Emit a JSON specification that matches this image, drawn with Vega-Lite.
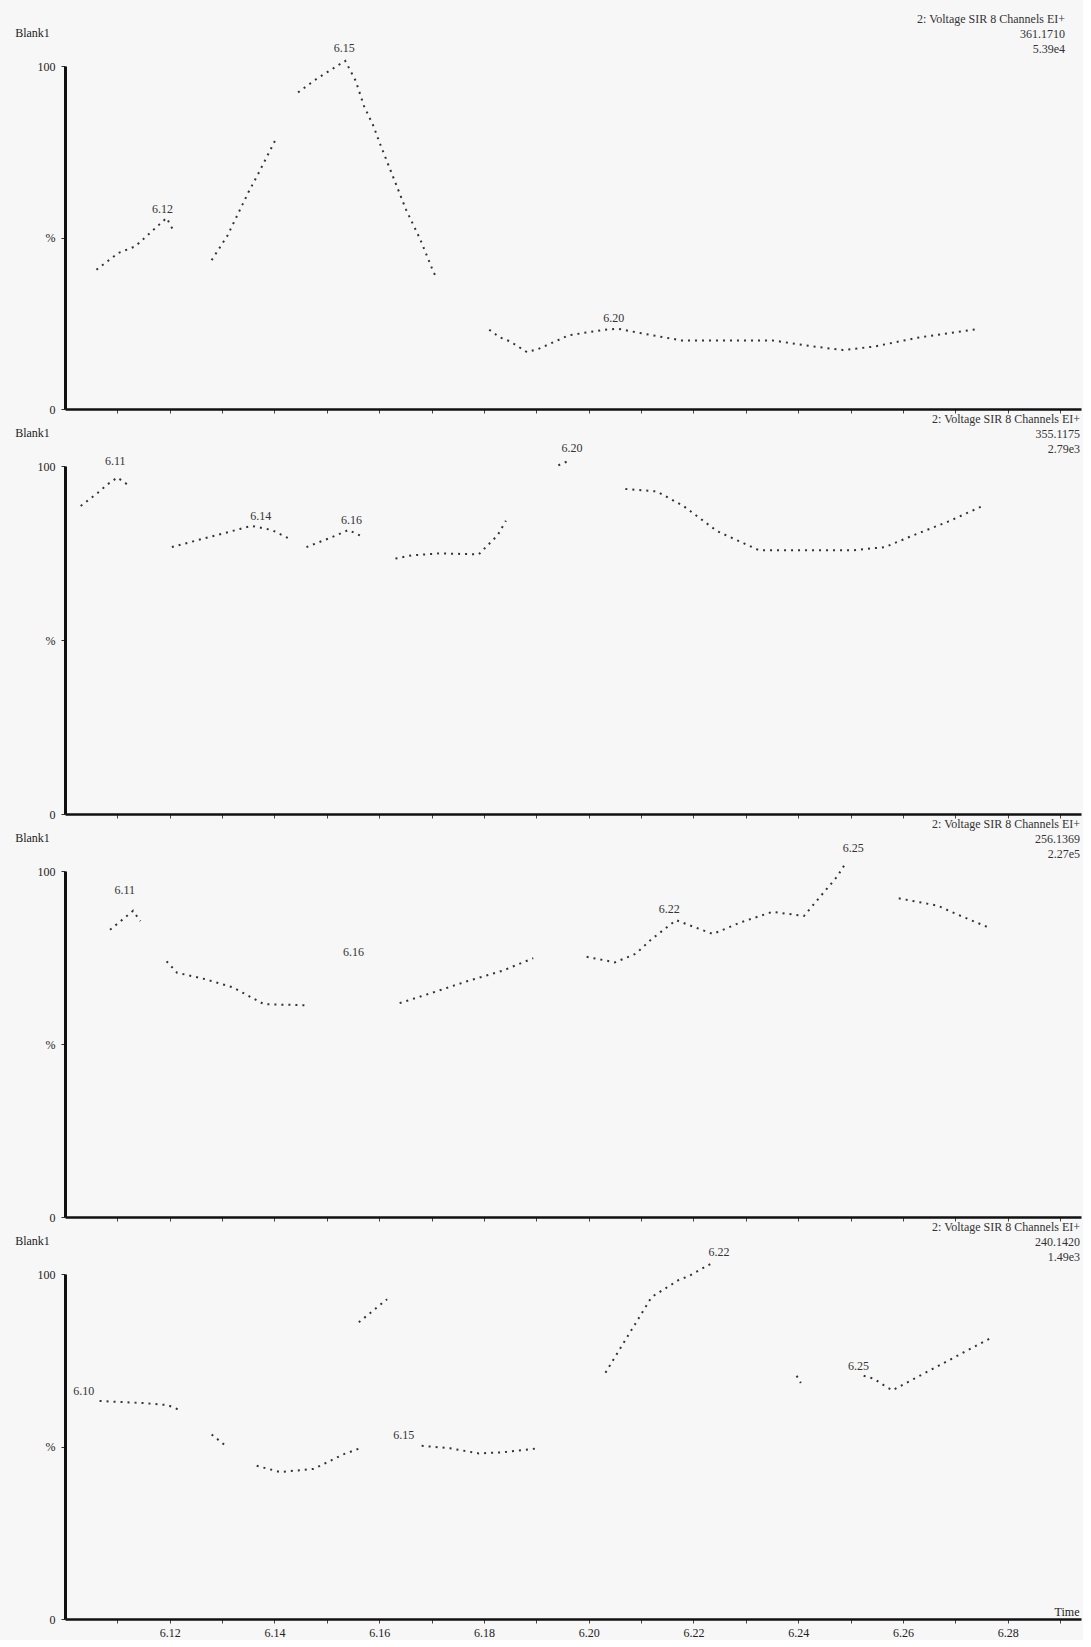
{
  "$schema": "https://vega.github.io/schema/vega-lite/v6.json",
  "background": "#f7f7f7",
  "padding": {"left": 14, "top": 13, "right": 2, "bottom": 2},
  "bounds": "flush",
  "spacing": 57,
  "config": {
    "view": {"stroke": null},
    "font": "Liberation Serif",
    "title": {"font": "Liberation Serif", "fontSize": 12, "fontWeight": "normal", "color": "#333", "anchor": "end", "align": "right", "frame": "group", "lineHeight": 15, "offset": -30},
    "axisY": {"labelExpr": "datum.value == 50 ? '%' : datum.label", "titleAngle": 0, "titleX": -33, "titleY": -34, "titleAlign": "center", "titleBaseline": "middle", "titleFont": "Liberation Serif", "titleFontSize": 12, "titleFontWeight": "normal", "titleColor": "#222", "labelFont": "Liberation Serif", "labelFontSize": 12, "labelColor": "#222", "domainWidth": 3, "domainColor": "#111", "tickSize": 4, "tickColor": "#333", "grid": false, "labelPadding": 6},
    "axisX": {"domainWidth": 2.5, "domainColor": "#111", "tickSize": 4, "tickColor": "#444", "grid": false, "labelFont": "Liberation Serif", "labelFontSize": 12, "labelColor": "#222"}
  },
  "datasets": {
    "trace": [
      {"panel": 1, "seg": 1, "t": 6.1060, "v": 40.6}, {"panel": 1, "seg": 1, "t": 6.1102, "v": 45.5}, {"panel": 1, "seg": 1, "t": 6.1134, "v": 47.4}, {"panel": 1, "seg": 1, "t": 6.1194, "v": 55.7}, {"panel": 1, "seg": 1, "t": 6.1206, "v": 52.3},
      {"panel": 1, "seg": 2, "t": 6.1280, "v": 43.4}, {"panel": 1, "seg": 2, "t": 6.1310, "v": 50.5}, {"panel": 1, "seg": 2, "t": 6.1350, "v": 63.1}, {"panel": 1, "seg": 2, "t": 6.1370, "v": 68.9}, {"panel": 1, "seg": 2, "t": 6.1401, "v": 78.2},
      {"panel": 1, "seg": 3, "t": 6.1445, "v": 92.3}, {"panel": 1, "seg": 3, "t": 6.1481, "v": 96.3}, {"panel": 1, "seg": 3, "t": 6.1535, "v": 101.5}, {"panel": 1, "seg": 3, "t": 6.1555, "v": 95.7}, {"panel": 1, "seg": 3, "t": 6.1571, "v": 88.3}, {"panel": 1, "seg": 3, "t": 6.1589, "v": 82.5}, {"panel": 1, "seg": 3, "t": 6.1601, "v": 77.5}, {"panel": 1, "seg": 3, "t": 6.1621, "v": 69.8}, {"panel": 1, "seg": 3, "t": 6.1651, "v": 58.2}, {"panel": 1, "seg": 3, "t": 6.1679, "v": 49.2}, {"panel": 1, "seg": 3, "t": 6.1701, "v": 40.9}, {"panel": 1, "seg": 3, "t": 6.1709, "v": 38.2},
      {"panel": 1, "seg": 4, "t": 6.1810, "v": 23.1}, {"panel": 1, "seg": 4, "t": 6.1830, "v": 20.9}, {"panel": 1, "seg": 4, "t": 6.1850, "v": 19.7}, {"panel": 1, "seg": 4, "t": 6.1882, "v": 16.6}, {"panel": 1, "seg": 4, "t": 6.1904, "v": 17.5}, {"panel": 1, "seg": 4, "t": 6.1962, "v": 21.5}, {"panel": 1, "seg": 4, "t": 6.2030, "v": 23.1}, {"panel": 1, "seg": 4, "t": 6.2056, "v": 23.4}, {"panel": 1, "seg": 4, "t": 6.2096, "v": 22.2}, {"panel": 1, "seg": 4, "t": 6.2177, "v": 20.0}, {"panel": 1, "seg": 4, "t": 6.2265, "v": 20.0}, {"panel": 1, "seg": 4, "t": 6.2351, "v": 20.0}, {"panel": 1, "seg": 4, "t": 6.2431, "v": 18.2}, {"panel": 1, "seg": 4, "t": 6.2485, "v": 17.2}, {"panel": 1, "seg": 4, "t": 6.2545, "v": 18.2}, {"panel": 1, "seg": 4, "t": 6.2632, "v": 20.9}, {"panel": 1, "seg": 4, "t": 6.2746, "v": 23.4},

      {"panel": 2, "seg": 1, "t": 6.1030, "v": 88.5}, {"panel": 2, "seg": 1, "t": 6.1066, "v": 92.7}, {"panel": 2, "seg": 1, "t": 6.1080, "v": 94.6}, {"panel": 2, "seg": 1, "t": 6.1100, "v": 96.7}, {"panel": 2, "seg": 1, "t": 6.1120, "v": 94.6},
      {"panel": 2, "seg": 2, "t": 6.1204, "v": 76.7}, {"panel": 2, "seg": 2, "t": 6.1266, "v": 79.2}, {"panel": 2, "seg": 2, "t": 6.1334, "v": 81.9}, {"panel": 2, "seg": 2, "t": 6.1356, "v": 82.8}, {"panel": 2, "seg": 2, "t": 6.1395, "v": 81.6}, {"panel": 2, "seg": 2, "t": 6.1427, "v": 79.2},
      {"panel": 2, "seg": 3, "t": 6.1461, "v": 76.7}, {"panel": 2, "seg": 3, "t": 6.1509, "v": 79.5}, {"panel": 2, "seg": 3, "t": 6.1541, "v": 81.6}, {"panel": 2, "seg": 3, "t": 6.1571, "v": 79.5},
      {"panel": 2, "seg": 4, "t": 6.1631, "v": 73.4}, {"panel": 2, "seg": 4, "t": 6.1661, "v": 74.3}, {"panel": 2, "seg": 4, "t": 6.1715, "v": 74.9}, {"panel": 2, "seg": 4, "t": 6.1790, "v": 74.6}, {"panel": 2, "seg": 4, "t": 6.1826, "v": 80.1}, {"panel": 2, "seg": 4, "t": 6.1842, "v": 84.3},
      {"panel": 2, "seg": 5, "t": 6.1942, "v": 100.2}, {"panel": 2, "seg": 5, "t": 6.1962, "v": 101.5},
      {"panel": 2, "seg": 6, "t": 6.2070, "v": 93.4}, {"panel": 2, "seg": 6, "t": 6.2130, "v": 92.7}, {"panel": 2, "seg": 6, "t": 6.2181, "v": 88.5}, {"panel": 2, "seg": 6, "t": 6.2245, "v": 81.3}, {"panel": 2, "seg": 6, "t": 6.2325, "v": 75.8}, {"panel": 2, "seg": 6, "t": 6.2365, "v": 75.8}, {"panel": 2, "seg": 6, "t": 6.2431, "v": 75.8}, {"panel": 2, "seg": 6, "t": 6.2505, "v": 75.8}, {"panel": 2, "seg": 6, "t": 6.2566, "v": 76.7}, {"panel": 2, "seg": 6, "t": 6.2620, "v": 80.1}, {"panel": 2, "seg": 6, "t": 6.2686, "v": 84.0}, {"panel": 2, "seg": 6, "t": 6.2752, "v": 88.5},

      {"panel": 3, "seg": 1, "t": 6.1086, "v": 83.0}, {"panel": 3, "seg": 1, "t": 6.1130, "v": 88.5}, {"panel": 3, "seg": 1, "t": 6.1144, "v": 85.5},
      {"panel": 3, "seg": 2, "t": 6.1194, "v": 73.9}, {"panel": 3, "seg": 2, "t": 6.1214, "v": 70.6}, {"panel": 3, "seg": 2, "t": 6.1266, "v": 68.8}, {"panel": 3, "seg": 2, "t": 6.1320, "v": 66.4}, {"panel": 3, "seg": 2, "t": 6.1380, "v": 61.5}, {"panel": 3, "seg": 2, "t": 6.1461, "v": 61.2},
      {"panel": 3, "seg": 3, "t": 6.1639, "v": 61.8}, {"panel": 3, "seg": 3, "t": 6.1701, "v": 64.8}, {"panel": 3, "seg": 3, "t": 6.1769, "v": 68.2}, {"panel": 3, "seg": 3, "t": 6.1836, "v": 71.2}, {"panel": 3, "seg": 3, "t": 6.1894, "v": 74.8},
      {"panel": 3, "seg": 4, "t": 6.1996, "v": 75.2}, {"panel": 3, "seg": 4, "t": 6.2050, "v": 73.6}, {"panel": 3, "seg": 4, "t": 6.2090, "v": 76.1}, {"panel": 3, "seg": 4, "t": 6.2120, "v": 80.3}, {"panel": 3, "seg": 4, "t": 6.2167, "v": 85.8}, {"panel": 3, "seg": 4, "t": 6.2205, "v": 83.6}, {"panel": 3, "seg": 4, "t": 6.2237, "v": 81.8}, {"panel": 3, "seg": 4, "t": 6.2291, "v": 85.2}, {"panel": 3, "seg": 4, "t": 6.2351, "v": 88.2}, {"panel": 3, "seg": 4, "t": 6.2411, "v": 87.0}, {"panel": 3, "seg": 4, "t": 6.2451, "v": 94.2}, {"panel": 3, "seg": 4, "t": 6.2475, "v": 98.5}, {"panel": 3, "seg": 4, "t": 6.2491, "v": 102.4},
      {"panel": 3, "seg": 5, "t": 6.2592, "v": 92.1}, {"panel": 3, "seg": 5, "t": 6.2666, "v": 90.0}, {"panel": 3, "seg": 5, "t": 6.2706, "v": 87.3}, {"panel": 3, "seg": 5, "t": 6.2760, "v": 83.9},

      {"panel": 4, "seg": 1, "t": 6.1066, "v": 63.2}, {"panel": 4, "seg": 1, "t": 6.1106, "v": 62.9}, {"panel": 4, "seg": 1, "t": 6.1150, "v": 62.6}, {"panel": 4, "seg": 1, "t": 6.1196, "v": 62.0}, {"panel": 4, "seg": 1, "t": 6.1220, "v": 60.5},
      {"panel": 4, "seg": 2, "t": 6.1280, "v": 53.5}, {"panel": 4, "seg": 2, "t": 6.1310, "v": 49.8},
      {"panel": 4, "seg": 3, "t": 6.1366, "v": 44.4}, {"panel": 4, "seg": 3, "t": 6.1411, "v": 42.6}, {"panel": 4, "seg": 3, "t": 6.1475, "v": 43.5}, {"panel": 4, "seg": 3, "t": 6.1511, "v": 46.2}, {"panel": 4, "seg": 3, "t": 6.1531, "v": 47.7}, {"panel": 4, "seg": 3, "t": 6.1569, "v": 49.8},
      {"panel": 4, "seg": 4, "t": 6.1561, "v": 86.0}, {"panel": 4, "seg": 4, "t": 6.1615, "v": 92.7},
      {"panel": 4, "seg": 5, "t": 6.1681, "v": 50.2}, {"panel": 4, "seg": 5, "t": 6.1735, "v": 49.5}, {"panel": 4, "seg": 5, "t": 6.1790, "v": 48.0}, {"panel": 4, "seg": 5, "t": 6.1836, "v": 48.3}, {"panel": 4, "seg": 5, "t": 6.1904, "v": 49.5},
      {"panel": 4, "seg": 6, "t": 6.2032, "v": 71.4}, {"panel": 4, "seg": 6, "t": 6.2120, "v": 93.3}, {"panel": 4, "seg": 6, "t": 6.2171, "v": 98.2}, {"panel": 4, "seg": 6, "t": 6.2191, "v": 99.4}, {"panel": 4, "seg": 6, "t": 6.2237, "v": 103.3},
      {"panel": 4, "seg": 7, "t": 6.2397, "v": 70.5}, {"panel": 4, "seg": 7, "t": 6.2405, "v": 68.4},
      {"panel": 4, "seg": 8, "t": 6.2525, "v": 70.5}, {"panel": 4, "seg": 8, "t": 6.2545, "v": 69.6}, {"panel": 4, "seg": 8, "t": 6.2566, "v": 67.5}, {"panel": 4, "seg": 8, "t": 6.2580, "v": 66.3}, {"panel": 4, "seg": 8, "t": 6.2772, "v": 81.8}
    ],
    "labels": [
      {"panel": 1, "label": "6.12", "t": 6.1186, "v": 58.2}, {"panel": 1, "label": "6.15", "t": 6.1533, "v": 105.2}, {"panel": 1, "label": "6.20", "t": 6.2048, "v": 26.5},
      {"panel": 2, "label": "6.11", "t": 6.1096, "v": 101.5}, {"panel": 2, "label": "6.14", "t": 6.1374, "v": 85.5}, {"panel": 2, "label": "6.16", "t": 6.1547, "v": 84.6}, {"panel": 2, "label": "6.20", "t": 6.1968, "v": 105.1},
      {"panel": 3, "label": "6.11", "t": 6.1114, "v": 94.5}, {"panel": 3, "label": "6.16", "t": 6.1551, "v": 76.7}, {"panel": 3, "label": "6.22", "t": 6.2154, "v": 89.1}, {"panel": 3, "label": "6.25", "t": 6.2505, "v": 106.7},
      {"panel": 4, "label": "6.10", "t": 6.1036, "v": 66.0}, {"panel": 4, "label": "6.15", "t": 6.1647, "v": 53.2}, {"panel": 4, "label": "6.22", "t": 6.2249, "v": 106.4}, {"panel": 4, "label": "6.25", "t": 6.2515, "v": 73.3}
    ]
  },
  "vconcat": [
    {
      "width": 1016, "height": 343,
      "title": {"text": ["2: Voltage SIR 8 Channels EI+", "361.1710", "5.39e4"], "dx": -16},
      "layer": [
        {"data": {"name": "trace"}, "transform": [{"filter": "datum.panel == 1"}],
         "mark": {"type": "line", "stroke": "#333", "strokeWidth": 2, "strokeDash": [2, 5], "clip": false},
         "encoding": {
           "x": {"field": "t", "type": "quantitative", "scale": {"domain": [6.1, 6.294], "nice": false, "zero": false}, "axis": {"labels": false, "title": null, "values": [6.11, 6.12, 6.13, 6.14, 6.15, 6.16, 6.17, 6.18, 6.19, 6.2, 6.21, 6.22, 6.23, 6.24, 6.25, 6.26, 6.27, 6.28, 6.29]}},
           "y": {"field": "v", "type": "quantitative", "scale": {"domain": [0, 100], "nice": false}, "axis": {"title": "Blank1", "values": [0, 50, 100]}},
           "detail": {"field": "seg"}}},
        {"data": {"name": "labels"}, "transform": [{"filter": "datum.panel == 1"}],
         "mark": {"type": "text", "font": "Liberation Serif", "fontSize": 12, "color": "#333", "baseline": "middle", "align": "center", "clip": false},
         "encoding": {"x": {"field": "t", "type": "quantitative"}, "y": {"field": "v", "type": "quantitative"}, "text": {"field": "label"}}}
      ]
    },
    {
      "width": 1016, "height": 348,
      "title": {"text": ["2: Voltage SIR 8 Channels EI+", "355.1175", "2.79e3"], "dx": -1},
      "layer": [
        {"data": {"name": "trace"}, "transform": [{"filter": "datum.panel == 2"}],
         "mark": {"type": "line", "stroke": "#333", "strokeWidth": 2, "strokeDash": [2, 5], "clip": false},
         "encoding": {
           "x": {"field": "t", "type": "quantitative", "scale": {"domain": [6.1, 6.294], "nice": false, "zero": false}, "axis": {"labels": false, "title": null, "values": [6.11, 6.12, 6.13, 6.14, 6.15, 6.16, 6.17, 6.18, 6.19, 6.2, 6.21, 6.22, 6.23, 6.24, 6.25, 6.26, 6.27, 6.28, 6.29]}},
           "y": {"field": "v", "type": "quantitative", "scale": {"domain": [0, 100], "nice": false}, "axis": {"title": "Blank1", "values": [0, 50, 100]}},
           "detail": {"field": "seg"}}},
        {"data": {"name": "labels"}, "transform": [{"filter": "datum.panel == 2"}],
         "mark": {"type": "text", "font": "Liberation Serif", "fontSize": 12, "color": "#333", "baseline": "middle", "align": "center", "clip": false},
         "encoding": {"x": {"field": "t", "type": "quantitative"}, "y": {"field": "v", "type": "quantitative"}, "text": {"field": "label"}}}
      ]
    },
    {
      "width": 1016, "height": 346,
      "title": {"text": ["2: Voltage SIR 8 Channels EI+", "256.1369", "2.27e5"], "dx": -1},
      "layer": [
        {"data": {"name": "trace"}, "transform": [{"filter": "datum.panel == 3"}],
         "mark": {"type": "line", "stroke": "#333", "strokeWidth": 2, "strokeDash": [2, 5], "clip": false},
         "encoding": {
           "x": {"field": "t", "type": "quantitative", "scale": {"domain": [6.1, 6.294], "nice": false, "zero": false}, "axis": {"labels": false, "title": null, "values": [6.11, 6.12, 6.13, 6.14, 6.15, 6.16, 6.17, 6.18, 6.19, 6.2, 6.21, 6.22, 6.23, 6.24, 6.25, 6.26, 6.27, 6.28, 6.29]}},
           "y": {"field": "v", "type": "quantitative", "scale": {"domain": [0, 100], "nice": false}, "axis": {"title": "Blank1", "values": [0, 50, 100]}},
           "detail": {"field": "seg"}}},
        {"data": {"name": "labels"}, "transform": [{"filter": "datum.panel == 3"}],
         "mark": {"type": "text", "font": "Liberation Serif", "fontSize": 12, "color": "#333", "baseline": "middle", "align": "center", "clip": false},
         "encoding": {"x": {"field": "t", "type": "quantitative"}, "y": {"field": "v", "type": "quantitative"}, "text": {"field": "label"}}}
      ]
    },
    {
      "width": 1016, "height": 345,
      "title": {"text": ["2: Voltage SIR 8 Channels EI+", "240.1420", "1.49e3"], "dx": -1},
      "layer": [
        {"data": {"name": "trace"}, "transform": [{"filter": "datum.panel == 4"}],
         "mark": {"type": "line", "stroke": "#333", "strokeWidth": 2, "strokeDash": [2, 5], "clip": false},
         "encoding": {
           "x": {"field": "t", "type": "quantitative", "scale": {"domain": [6.1, 6.294], "nice": false, "zero": false},
                 "axis": {"values": [6.11, 6.12, 6.13, 6.14, 6.15, 6.16, 6.17, 6.18, 6.19, 6.2, 6.21, 6.22, 6.23, 6.24, 6.25, 6.26, 6.27, 6.28, 6.29], "labelExpr": "round(datum.value * 100) % 2 == 0 ? format(datum.value, '.2f') : ''", "labelPadding": 4, "title": "Time", "titleX": 1014, "titleY": -8, "titleAlign": "right", "titleBaseline": "middle", "titleFont": "Liberation Serif", "titleFontSize": 12, "titleFontWeight": "normal", "titleColor": "#222"}},
           "y": {"field": "v", "type": "quantitative", "scale": {"domain": [0, 100], "nice": false}, "axis": {"title": "Blank1", "values": [0, 50, 100]}},
           "detail": {"field": "seg"}}},
        {"data": {"name": "labels"}, "transform": [{"filter": "datum.panel == 4"}],
         "mark": {"type": "text", "font": "Liberation Serif", "fontSize": 12, "color": "#333", "baseline": "middle", "align": "center", "clip": false},
         "encoding": {"x": {"field": "t", "type": "quantitative"}, "y": {"field": "v", "type": "quantitative"}, "text": {"field": "label"}}}
      ]
    }
  ]
}
